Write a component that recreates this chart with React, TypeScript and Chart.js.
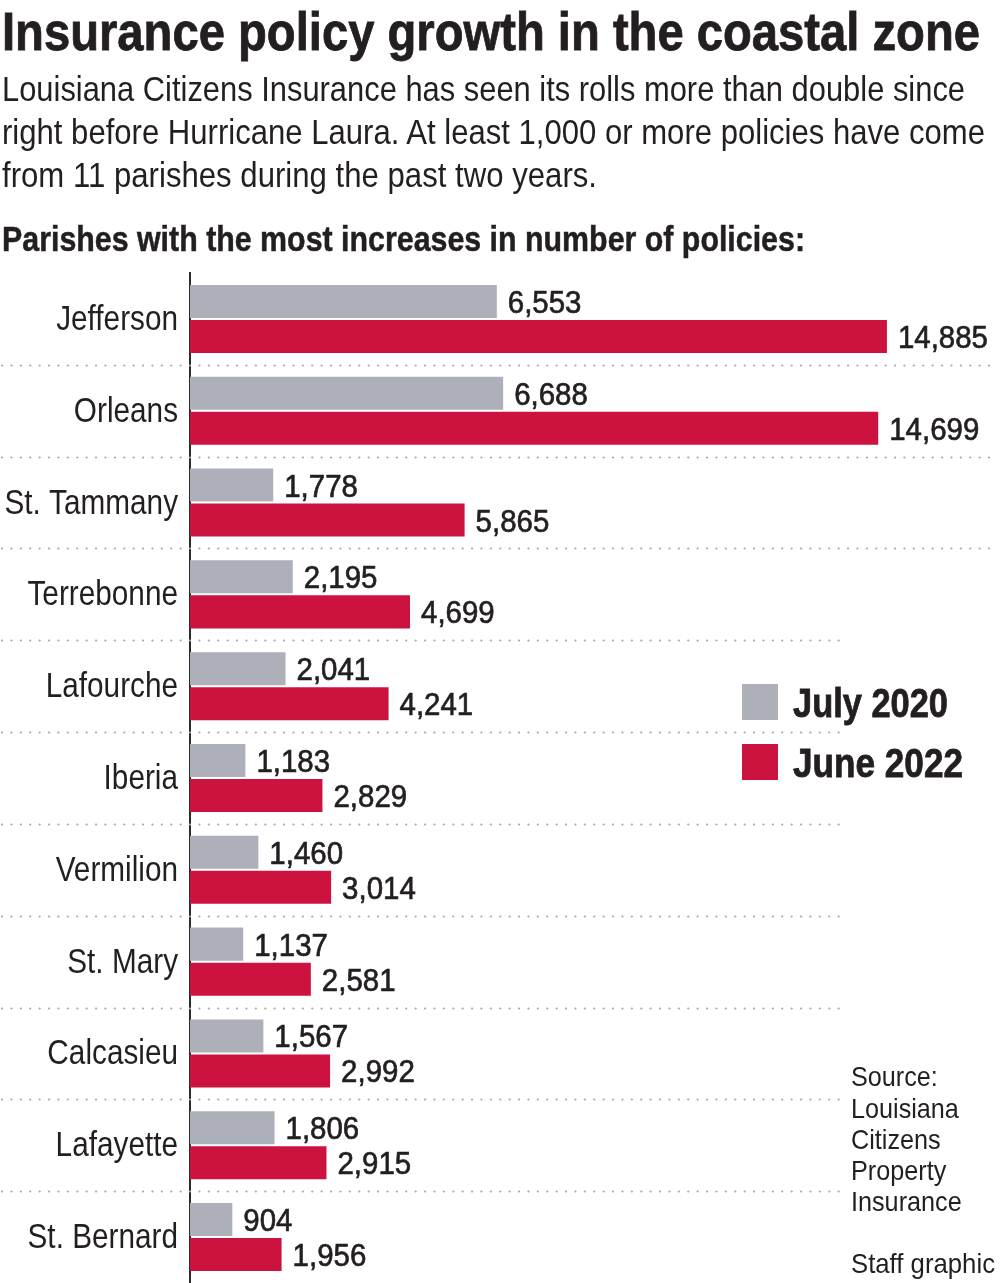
import React, { useEffect, useRef, useLayoutEffect } from "react";
import { Chart, registerables } from "chart.js";

Chart.register(...registerables);

// ---------- data ----------
const parishes = [
  "Jefferson",
  "Orleans",
  "St. Tammany",
  "Terrebonne",
  "Lafourche",
  "Iberia",
  "Vermilion",
  "St. Mary",
  "Calcasieu",
  "Lafayette",
  "St. Bernard",
];
const july2020 = [6553, 6688, 1778, 2195, 2041, 1183, 1460, 1137, 1567, 1806, 904];
const june2022 = [14885, 14699, 5865, 4699, 4241, 2829, 3014, 2581, 2992, 2915, 1956];
const seriesNames = ["July 2020", "June 2022"];

const titleText = "Insurance policy growth in the coastal zone";
const subtitleLines = [
  "Louisiana Citizens Insurance has seen its rolls more than double since",
  "right before Hurricane Laura. At least 1,000 or more policies have come",
  "from 11 parishes during the past two years.",
];
const headerText = "Parishes with the most increases in number of policies:";
const sourceLines = ["Source:", "Louisiana", "Citizens", "Property", "Insurance"];
const creditText = "Staff graphic";

// ---------- styles ----------
const GRAY = "#adafb9";
const RED = "#cc1340";
const INK = "#231f20";
const NARROW = "'Liberation Sans Narrow', 'Liberation Sans', Arial, sans-serif";
const SANS = "'Liberation Sans', Arial, sans-serif";

type TxtProps = {
  text: string;
  left: number;
  baseline: number;
  size: number;
  weight?: number | string;
  width?: number;
  family?: string;
  scale?: number;
  stroke?: number;
};

function Txt({ text, left, baseline, size, weight = 400, width, family = NARROW, scale, stroke = 0 }: TxtProps) {
  const ref = useRef<HTMLSpanElement>(null);
  useLayoutEffect(() => {
    const el = ref.current;
    if (!el) return;
    const fit = () => {
      el.style.transform = "none";
      const w = el.getBoundingClientRect().width;
      let s = scale ?? 1;
      if (width && w > 0) s = width / w;
      el.style.transform = `scaleX(${s})`;
    };
    fit();
    if ((document as any).fonts && (document as any).fonts.ready) {
      (document as any).fonts.ready.then(fit);
    }
  }, [text, width, scale]);
  return (
    <span
      ref={ref}
      style={{
        position: "absolute",
        left,
        top: baseline - size * 0.8465,
        fontSize: size,
        lineHeight: `${size}px`,
        fontWeight: weight as any,
        fontFamily: family,
        whiteSpace: "nowrap",
        transformOrigin: "0 0",
        color: INK,
        display: "inline-block",
        WebkitTextStroke: stroke ? `${stroke}px ${INK}` : undefined,
      }}
    >
      {text}
    </span>
  );
}

const overlayPlugin = {
  id: "overlay",
  beforeDatasetsDraw(chart: any) {
    const ctx = chart.ctx;
    const y = chart.scales.y;
    // dotted separators between categories
    ctx.save();
    ctx.strokeStyle = "#a9a9a9";
    ctx.lineWidth = 2.2;
    ctx.lineCap = "round";
    ctx.setLineDash([0.1, 9.3]);
    for (let i = 0; i < parishes.length - 1; i++) {
      const py = Math.round((y.getPixelForValue(i) + y.getPixelForValue(i + 1)) / 2) + 0.5;
      const xEnd = i < 3 ? 995 : 843;
      ctx.beginPath();
      ctx.moveTo(2, py);
      ctx.lineTo(xEnd, py);
      ctx.stroke();
    }
    ctx.restore();

    // category labels (condensed)
    const labels = chart.data.labels as string[];
    labels.forEach((lab, i) => {
      const py = y.getPixelForValue(i);
      ctx.save();
      ctx.font = `35px ${SANS}`;
      ctx.fillStyle = INK;
      ctx.textAlign = "right";
      ctx.textBaseline = "alphabetic";
      ctx.translate(chart.chartArea.left - 12, py + 11);
      ctx.scale(0.85, 1);
      ctx.fillText(lab, 0, 0);
      ctx.restore();
    });
  },
  afterDatasetsDraw(chart: any) {
    const ctx = chart.ctx;
    chart.data.datasets.forEach((ds: any, di: number) => {
      const meta = chart.getDatasetMeta(di);
      meta.data.forEach((bar: any, i: number) => {
        const v = ds.data[i] as number;
        const text = v.toLocaleString("en-US");
        ctx.save();
        ctx.font = `32px ${SANS}`;
        ctx.fillStyle = INK;
        ctx.strokeStyle = INK;
        ctx.lineWidth = 0.7;
        ctx.textBaseline = "alphabetic";
        ctx.textAlign = "left";
        ctx.translate(bar.x + 11, bar.y + 11.5);
        ctx.scale(0.92, 1);
        ctx.fillText(text, 0, 0);
        ctx.strokeText(text, 0, 0);
        ctx.restore();
      });
    });
  },
};

function BarChart() {
  const canvasRef = useRef<HTMLCanvasElement>(null);
  useEffect(() => {
    const canvas = canvasRef.current;
    if (!canvas) return;
    const chart = new Chart(canvas, {
      type: "bar",
      data: {
        labels: parishes,
        datasets: [
          {
            label: seriesNames[0],
            data: july2020,
            backgroundColor: GRAY,
            borderWidth: 0,
            categoryPercentage: 0.763,
            barPercentage: 0.943,
          },
          {
            label: seriesNames[1],
            data: june2022,
            backgroundColor: RED,
            borderWidth: 0,
            categoryPercentage: 0.763,
            barPercentage: 0.943,
          },
        ],
      },
      options: {
        indexAxis: "y",
        animation: false,
        responsive: false,
        devicePixelRatio: 1,
        layout: { padding: { top: 273, left: 0, right: 0, bottom: 0 } },
        plugins: {
          legend: { display: false },
          tooltip: { enabled: false },
          title: { display: false },
        },
        scales: {
          x: { display: false, min: 0, max: 17300 },
          y: {
            type: "category",
            grid: { display: false, drawTicks: false },
            border: { display: true, color: "#2b2b2b", width: 2 },
            ticks: { display: false },
            afterFit(scale: any) {
              scale.width = 190;
            },
          },
        },
      },
      plugins: [overlayPlugin],
    } as any);
    return () => chart.destroy();
  }, []);
  return (
    <canvas
      ref={canvasRef}
      width={1000}
      height={1283}
      style={{ position: "absolute", left: 0, top: 0, width: 1000, height: 1283 }}
    />
  );
}

export default function App() {
  return (
    <div
      style={{
        position: "absolute",
        left: 0,
        top: 0,
        width: 1000,
        height: 1283,
        background: "#ffffff",
        overflow: "hidden",
      }}
    >
      <BarChart />
      <Txt text={titleText} left={2} baseline={50} size={53} weight={700} width={978} stroke={0.8} />
      <Txt text={subtitleLines[0]} left={2} baseline={101} size={35} width={963} />
      <Txt text={subtitleLines[1]} left={2} baseline={144} size={35} width={983} />
      <Txt text={subtitleLines[2]} left={2} baseline={187} size={35} width={595} />
      <Txt text={headerText} left={2} baseline={251} size={35} weight={700} width={803} stroke={0.5} />

      {/* legend */}
      <div style={{ position: "absolute", left: 742, top: 684, width: 36, height: 36, background: GRAY }} />
      <div style={{ position: "absolute", left: 742, top: 744, width: 36, height: 36, background: RED }} />
      <Txt text={seriesNames[0]} left={793} baseline={717} size={40} weight={700} width={155} stroke={0.8} />
      <Txt text={seriesNames[1]} left={793} baseline={777} size={40} weight={700} width={170} stroke={0.8} />

      {/* source */}
      {sourceLines.map((s, i) => (
        <Txt key={s} text={s} left={851} baseline={1087 + i * 31.3} size={28} family={SANS} scale={0.9} />
      ))}
      <Txt text={creditText} left={851} baseline={1274} size={28} width={144} />
    </div>
  );
}
